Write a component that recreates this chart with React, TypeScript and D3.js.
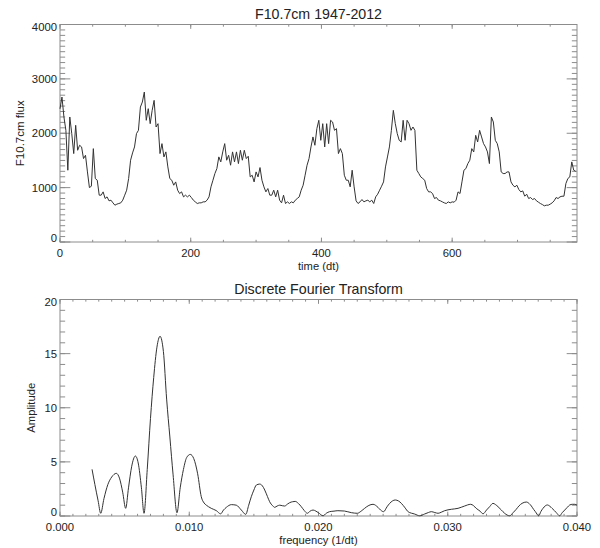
import React from 'react';
import * as d3 from 'd3';

// ---------- Data ----------
const fluxStep = 3;
const timeMax = 791;
const fluxValues = [
  2450, 2666, 2299, 2054, 1320, 2299, 1993, 1626, 2146, 1687, 1779, 1748, 1534, 1595, 1289, 1001, 1026, 1717, 1167, 1136,
  861, 861, 922, 800, 830, 757, 769, 720, 677, 696, 708, 720, 769, 861, 953, 1167, 1504, 1638, 1748, 1993,
  2054, 2482, 2574, 2758, 2238, 2452, 2176, 2421, 2605, 2115, 2176, 1626, 1809, 1565, 1657, 1381, 1167, 1136, 1044, 1105,
  953, 891, 922, 830, 861, 830, 861, 818, 769, 738, 708, 720, 720, 738, 738, 769, 830, 1014, 1136, 1259,
  1350, 1565, 1473, 1657, 1809, 1504, 1595, 1412, 1657, 1473, 1657, 1442, 1687, 1504, 1687, 1534, 1577, 1197, 1228, 1105,
  1289, 1197, 1369, 1136, 1014, 922, 983, 861, 861, 953, 830, 953, 769, 720, 861, 708, 738, 708, 738, 720,
  769, 800, 830, 953, 1044, 1228, 1412, 1534, 1748, 1932, 1779, 2085, 2238, 1870, 2176, 1748, 2176, 1809, 2238, 2207,
  2054, 2085, 1626, 1717, 1626, 1228, 1136, 1136, 1014, 1320, 1014, 757, 708, 738, 781, 738, 757, 769, 738, 769,
  708, 830, 879, 953, 1026, 1105, 1381, 1564, 1748, 2054, 2421, 2176, 1993, 1870, 1840, 2238, 1870, 2238, 2176, 2054,
  2115, 2054, 1320, 1259, 1197, 1167, 1136, 983, 922, 922, 891, 800, 818, 769, 757, 738, 720, 708, 738, 720,
  738, 732, 769, 922, 891, 1105, 1320, 1350, 1442, 1504, 1717, 1656, 1962, 1840, 2054, 1932, 1809, 1748, 1657, 1442,
  2299, 2207, 1870, 1809, 1657, 1289, 1259, 1259, 1289, 1289, 1105, 1044, 1014, 1044, 965, 922, 940, 842, 879, 800,
  818, 781, 800, 757, 732, 708, 689, 665, 677, 677, 696, 720, 757, 818, 800, 830, 842, 842, 1075, 1167,
  1197, 1473, 1320, 1300
];
const timeTicks = [0, 200, 400, 600];
const fluxTicks = [0, 1000, 2000, 3000, 4000];

// DFT amplitude spectrum
const freqs = [
  0.00248, 0.0027, 0.00295, 0.00315, 0.0034, 0.0037, 0.004, 0.00436, 0.0046, 0.00485,
  0.00508, 0.0053, 0.00555, 0.00583, 0.00605, 0.0063, 0.0065, 0.00675, 0.007, 0.00725,
  0.0075, 0.00774, 0.008, 0.00825, 0.0085, 0.00875, 0.00905, 0.0093, 0.00955, 0.0098,
  0.01008, 0.01035, 0.01065, 0.01093, 0.01115, 0.01132, 0.0115, 0.0117, 0.01209, 0.01243,
  0.01265, 0.01287, 0.01326, 0.01364, 0.01403, 0.01437, 0.0146, 0.0148, 0.015, 0.01519,
  0.01545, 0.01565, 0.01584, 0.01605, 0.01622, 0.01645, 0.01661, 0.0168, 0.017, 0.0172,
  0.01738, 0.0176, 0.01777, 0.018, 0.0182, 0.01845, 0.01867, 0.0189, 0.01914, 0.01935,
  0.01958, 0.0198, 0.02, 0.02035, 0.0206, 0.02086, 0.0212, 0.0215, 0.022, 0.02254,
  0.023, 0.0233, 0.02357, 0.0239, 0.02422, 0.0246, 0.0248, 0.02504, 0.0253, 0.02551,
  0.02594, 0.0262, 0.02641, 0.0267, 0.02693, 0.02744, 0.02783, 0.0282, 0.0285, 0.02873,
  0.029, 0.02925, 0.0295, 0.02976, 0.03028, 0.0308, 0.0313, 0.03177, 0.032, 0.0322,
  0.0325, 0.03273, 0.033, 0.03324, 0.0335, 0.0337, 0.03389, 0.03415, 0.0344, 0.03479,
  0.03505, 0.0353, 0.0355, 0.03575, 0.03608, 0.0363, 0.03647, 0.03665, 0.03678, 0.03704,
  0.0372, 0.03737, 0.03771, 0.0379, 0.03807, 0.03825, 0.0384, 0.03866, 0.03885, 0.03905,
  0.03925, 0.03944, 0.03965, 0.03983, 0.04
];
const amps = [
  4.31, 2.9, 1.4, 0.25, 1.6, 2.9, 3.6, 3.94, 3.5, 2.2,
  0.71, 2.6, 4.6, 5.54, 4.9, 2.6, 0.25, 4.3, 9.0, 12.8,
  15.6, 16.6, 15.2, 10.8, 7.3, 3.8, 0.3, 2.6, 4.3, 5.4,
  5.69, 5.3, 3.9, 1.78, 1.2, 1.0, 0.85, 0.71, 0.5, 0.2,
  0.55, 0.8, 1.05, 1.0, 0.55, 0.15, 1.0, 1.78, 2.4, 2.86,
  2.95, 2.8, 2.4, 1.8, 1.32, 0.95, 0.8, 0.92, 1.0, 0.95,
  0.92, 1.1, 1.23, 1.32, 1.35, 1.15, 0.86, 0.5, 0.25, 0.45,
  0.55, 0.45, 0.3, 0.02, 0.25, 0.4, 0.45, 0.49, 0.46, 0.31,
  0.25, 0.45, 0.71, 0.98, 1.08, 0.8, 0.55, 0.4, 0.85, 1.17,
  1.48, 1.38, 1.17, 0.75, 0.4, 0.18, 0.02, 0.18, 0.32, 0.4,
  0.32, 0.25, 0.35, 0.49, 0.62, 0.71, 0.92, 1.08, 0.95, 0.71,
  0.45, 0.2, 0.55, 0.86, 1.17, 1.05, 0.86, 0.55, 0.25, 0.02,
  0.3, 0.62, 0.92, 1.17, 1.29, 1.15, 0.92, 0.6, 0.4, 0.02,
  0.4, 0.71, 1.02, 0.9, 0.71, 0.5, 0.31, 0.02, 0.3, 0.55,
  0.8, 1.02, 1.08, 1.08, 1.0
];
const freqTicks = [0, 0.01, 0.02, 0.03, 0.04];
const ampTicks = [0, 5, 10, 15, 20];

// ---------- Styling ----------
const FONT = '"Liberation Sans", Arial, Helvetica, sans-serif';
const FRAME = '#8c8c8c';
const INK = '#222';
const CURVE = '#333';
const TICK_FS = 11.3;
const TITLE_FS = 14.2;
const LABEL_FS = 11.2;

type Lin = d3.ScaleLinear<number, number>;

function Frame(props: {
  xs: Lin; ys: Lin; xMajor: number[]; xMinor: number[]; yMajor: number[]; yMinor: number[];
}) {
  const { xs, ys, xMajor, xMinor, yMajor, yMinor } = props;
  const [x0, x1] = xs.range();
  const [y0, y1] = ys.range(); // y0 = bottom, y1 = top
  const h = y0 - y1;
  const w = x1 - x0;
  const xMajLen = 0.02 * h;
  const yMajLen = 0.02 * w;
  const segs: string[] = [];
  const add = (a: number, b: number, c: number, d: number) => segs.push(`M${a},${b}L${c},${d}`);
  xMinor.forEach((v) => {
    const x = xs(v);
    add(x, y0, x, y0 - xMajLen / 2);
    add(x, y1, x, y1 + xMajLen / 2);
  });
  xMajor.forEach((v) => {
    const x = xs(v);
    add(x, y0, x, y0 - xMajLen);
    add(x, y1, x, y1 + xMajLen);
  });
  yMinor.forEach((v) => {
    const y = ys(v);
    add(x0, y, x0 + yMajLen / 2, y);
    add(x1, y, x1 - yMajLen / 2, y);
  });
  yMajor.forEach((v) => {
    const y = ys(v);
    add(x0, y, x0 + yMajLen, y);
    add(x1, y, x1 - yMajLen, y);
  });
  return (
    <g>
      <path d={segs.join('')} stroke={FRAME} strokeWidth={1} fill="none" />
      <rect x={x0} y={y1} width={w} height={h} stroke={FRAME} strokeWidth={1} fill="none" />
    </g>
  );
}

// y tick labels: end labels nudged inward like the reference
function yLabelPos(ys: Lin, v: number, ticks: number[]) {
  const y = ys(v);
  if (v === ticks[0]) return y - 3.5;
  if (v === ticks[ticks.length - 1]) return y + 3;
  return y;
}

export default function App() {
  const L = 60, R = 577;
  const xT = d3.scaleLinear().domain([0, timeMax]).range([L, R]);
  const yT = d3.scaleLinear().domain([0, 4000]).range([242, 24.5]);
  const xF = d3.scaleLinear().domain([0, 0.04]).range([L, R]);
  const yF = d3.scaleLinear().domain([0, 20]).range([516, 299.5]);

  const fluxLine = d3.line<number>()
    .x((_, i) => xT(i * fluxStep))
    .y((d) => yT(d))
    .curve(d3.curveLinear);
  const dftLine = d3.line<number>()
    .x((_, i) => xF(freqs[i]))
    .y((d) => yF(d))
    .curve(d3.curveMonotoneX);

  const timeMinor = d3.range(0, timeMax + 1, 50);
  const fluxMinor = d3.range(0, 4001, 100);
  const freqMinor = d3.range(0, 41).map((i) => i / 1000);
  const ampMinor = d3.range(0, 21, 1);
  const fmtF = d3.format('.3f');
  const cx = (L + R) / 2;

  return (
    <svg width={600} height={548} style={{ position: 'absolute', left: 0, top: 0, background: '#fff' }}
      fontFamily={FONT}>
      <rect x={0} y={0} width={600} height={548} fill="#fff" />
      {/* ---------- Top panel ---------- */}
      <text x={cx} y={19} textAnchor="middle" fontSize={TITLE_FS} fill={INK}>F10.7cm 1947-2012</text>
      <Frame xs={xT} ys={yT} xMajor={timeTicks} xMinor={timeMinor} yMajor={fluxTicks} yMinor={fluxMinor} />
      <path d={fluxLine(fluxValues) || ''} fill="none" stroke={CURVE} strokeWidth={1} strokeLinejoin="round" />
      {fluxTicks.map((v) => (
        <text key={'fy' + v} x={57} y={yLabelPos(yT, v, fluxTicks)} dy="0.35em" textAnchor="end" fontSize={TICK_FS} fill={INK}>{v}</text>
      ))}
      {timeTicks.map((v) => (
        <text key={'tx' + v} x={xT(v)} y={257} textAnchor="middle" fontSize={TICK_FS} fill={INK}>{v}</text>
      ))}
      <text x={cx} y={269.5} textAnchor="middle" fontSize={LABEL_FS} fill={INK}>time (dt)</text>
      <text transform={`translate(24,${(24.5 + 242) / 2}) rotate(-90)`} textAnchor="middle" fontSize={11.5} fill={INK}>F10.7cm flux</text>

      {/* ---------- Bottom panel ---------- */}
      <text x={cx} y={294} textAnchor="middle" fontSize={TITLE_FS} fill={INK}>Discrete Fourier Transform</text>
      <Frame xs={xF} ys={yF} xMajor={freqTicks} xMinor={freqMinor} yMajor={ampTicks} yMinor={ampMinor} />
      <path d={dftLine(amps) || ''} fill="none" stroke={CURVE} strokeWidth={1} />
      {ampTicks.map((v) => (
        <text key={'ay' + v} x={57} y={yLabelPos(yF, v, ampTicks)} dy="0.35em" textAnchor="end" fontSize={TICK_FS} fill={INK}>{v}</text>
      ))}
      {freqTicks.map((v) => (
        <text key={'fx' + v} x={xF(v)} y={531} textAnchor="middle" fontSize={TICK_FS} fill={INK}>{fmtF(v)}</text>
      ))}
      <text x={cx} y={543.5} textAnchor="middle" fontSize={LABEL_FS} fill={INK}>frequency (1/dt)</text>
      <text transform={`translate(35,${(299.5 + 516) / 2}) rotate(-90)`} textAnchor="middle" fontSize={LABEL_FS} fill={INK}>Amplitude</text>
    </svg>
  );
}
